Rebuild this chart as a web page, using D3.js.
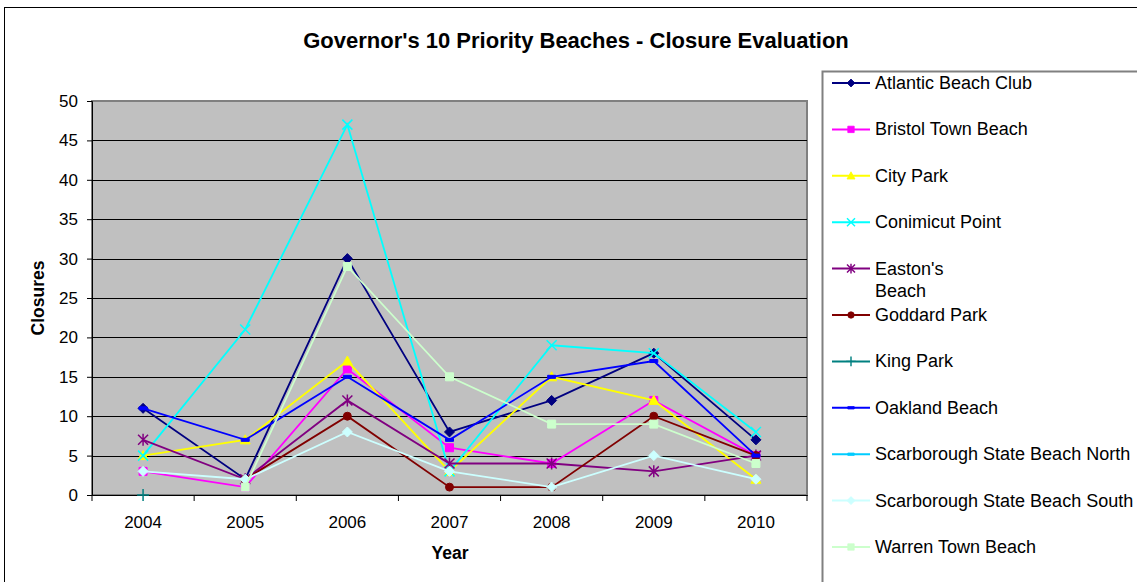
<!DOCTYPE html>
<html>
<head>
<meta charset="utf-8">
<script src="https://cdn.jsdelivr.net/npm/d3@7"></script>
<style>
  body { margin: 0; background: #fff; }
  text { font-family: "Liberation Sans", Arial, sans-serif; fill: #000; }
</style>
</head>
<body>
<svg width="1137" height="582"></svg>
<script>
//	data
var years = ["2004", "2005", "2006", "2007", "2008", "2009", "2010"];
var beaches = ["Atlantic Beach Club", "Bristol Town Beach", "City Park", "Conimicut Point",
	"Easton's\nBeach", "Goddard Park", "King Park", "Oakland Beach",
	"Scarborough State Beach North", "Scarborough State Beach South", "Warren Town Beach"];
var atlantic   = [11, 2, 30, 8, 12, 18, 7];
var bristol    = [3, 1, 16, 6, 4, 12, 5];
var cityPark   = [5, 7, 17, 3, 15, 12, 2];
var conimicut  = [5, 21, 47, 3, 19, 18, 8];
var eastons    = [7, 2, 12, 4, 4, 3, 5];
var goddard    = [null, 2, 10, 1, 1, 10, 5];
var kingPark   = [0, null, null, null, null, null, null];
var oakland    = [11, 7, 15, 7, 15, 17, 5];
var scarbNorth = [null, null, null, null, null, null, null];
var scarbSouth = [3, 2, 8, 3, 1, 5, 2];
var warren     = [null, 1, 29, 15, 9, 9, 4];
var yTicks = [0, 5, 10, 15, 20, 25, 30, 35, 40, 45, 50];

var seriesValues = [atlantic, bristol, cityPark, conimicut, eastons, goddard,
	kingPark, oakland, scarbNorth, scarbSouth, warren];
var colors = ["#000080", "#FF00FF", "#FFFF00", "#00FFFF", "#800080", "#800000",
	"#008080", "#0000FF", "#00CCFF", "#CCFFFF", "#CCFFCC"];
var markers = ["diamond", "square", "triangle", "x", "star", "circle",
	"plus", "dash", "dash", "diamond", "square"];

var svg = d3.select("svg");
var margin = {top: 101, left: 92, right: 330, bottom: 87};
var width = 1137 - margin.left - margin.right,
	height = 582 - margin.top - margin.bottom;

//	outer chart border
svg.append("rect")
	.attr("x", 4.5).attr("y", 7.5)
	.attr("width", 1140).attr("height", 590)
	.attr("fill", "#fff").attr("stroke", "#000").attr("stroke-width", 1);

svg.append("text")
	.attr("x", 576).attr("y", 48)
	.attr("text-anchor", "middle")
	.style("font-size", "22px").style("font-weight", "bold")
	.text("Governor's 10 Priority Beaches - Closure Evaluation");

var g = svg.append("g").attr("transform", "translate(" + margin.left + "," + margin.top + ")");

var x = d3.scaleBand().domain(years).range([0, width]);
var y = d3.scaleLinear().domain([0, 50]).range([height, 0]);

g.append("rect")
	.attr("width", width).attr("height", height)
	.attr("fill", "#C0C0C0").attr("stroke", "#808080").attr("stroke-width", 2);

//	gridlines
g.selectAll(".grid").data(yTicks.filter(function(d) { return d > 0 && d < 50; }))
	.enter().append("line")
	.attr("x1", 0).attr("x2", width)
	.attr("y1", function(d) { return Math.round(y(d)) + 0.5; })
	.attr("y2", function(d) { return Math.round(y(d)) + 0.5; })
	.attr("stroke", "#000").attr("stroke-width", 1);

//	y axis
var axisY = g.append("g")
	.call(d3.axisLeft(y).tickValues(yTicks).tickSize(5).tickPadding(9));
axisY.select(".domain").attr("stroke", "#000");
axisY.selectAll("text").style("font-size", "17px").style("font-family", "Liberation Sans, Arial");

//	x axis: labels centred, ticks at the category boundaries
var axisX = g.append("g")
	.attr("transform", "translate(0," + height + ")")
	.call(d3.axisBottom(x).tickSize(0).tickPadding(21));
axisX.select(".domain").attr("stroke", "#000");
axisX.selectAll("text").style("font-size", "17px").style("font-family", "Liberation Sans, Arial");
axisX.selectAll(".bound").data(years.concat(["end"]))
	.enter().append("line")
	.attr("class", "bound")
	.attr("x1", function(d) { return d == "end" ? width : x(d); })
	.attr("x2", function(d) { return d == "end" ? width : x(d); })
	.attr("y1", 0).attr("y2", 6)
	.attr("stroke", "#000");

svg.append("text")
	.attr("x", 450).attr("y", 559)
	.attr("text-anchor", "middle")
	.style("font-size", "17.5px").style("font-weight", "bold")
	.text("Year");
svg.append("text")
	.attr("transform", "translate(44,298) rotate(-90)")
	.attr("text-anchor", "middle")
	.style("font-size", "17.5px").style("font-weight", "bold")
	.text("Closures");

//	marker shapes
function markerPath(type) {
	switch (type) {
		case "diamond": return "M0,-5L5,0L0,5L-5,0Z";
		case "square": return "M-4,-4H4V4H-4Z";
		case "triangle": return "M0,-5L5,4H-5Z";
		case "x": return "M-5,-5L5,5M-5,5L5,-5";
		case "star": return "M-5,-5L5,5M-5,5L5,-5M0,-6V6";
		case "circle": return d3.symbol(d3.symbolCircle, 50)();
		case "plus": return "M-6,0H6M0,-6V6";
		case "dash": return "M-4,-1.5H4V1.5H-4Z";
	}
}
function isStroked(type) {
	return type == "x" || type == "star" || type == "plus";
}

var line = d3.line()
	.defined(function(d) { return d.v != null; })
	.x(function(d) { return x(d.year) + x.bandwidth() / 2; })
	.y(function(d) { return y(d.v); });

var series = seriesValues.map(function(vals, i) {
	return {name: beaches[i], color: colors[i], marker: markers[i],
		points: years.map(function(yr, j) { return {year: yr, v: vals[j]}; })};
});

var sg = g.selectAll(".series").data(series).enter().append("g").attr("class", "series");
sg.append("path")
	.attr("d", function(d) { return line(d.points); })
	.attr("fill", "none")
	.attr("stroke", function(d) { return d.color; })
	.attr("stroke-width", 1.8);
sg.each(function(s) {
	d3.select(this).selectAll(".mk")
		.data(s.points.filter(function(p) { return p.v != null; }))
		.enter().append("path")
		.attr("class", "mk")
		.attr("transform", function(p) {
			return "translate(" + (x(p.year) + x.bandwidth() / 2) + "," + y(p.v) + ")";
		})
		.attr("d", markerPath(s.marker))
		.attr("fill", isStroked(s.marker) ? "none" : s.color)
		.attr("stroke", s.color)
		.attr("stroke-width", isStroked(s.marker) ? 1.5 : 1);
});

//	legend
var legend = svg.append("g").attr("transform", "translate(822,71)");
legend.append("rect")
	.attr("x", 0.5).attr("y", 0.5)
	.attr("width", 330).attr("height", 530)
	.attr("fill", "#fff").attr("stroke", "#808080").attr("stroke-width", 2);
var li = legend.selectAll(".li").data(series).enter().append("g")
	.attr("transform", function(d, i) { return "translate(0," + (12 + i * 46.4) + ")"; });
li.append("line")
	.attr("x1", 10).attr("x2", 48)
	.attr("stroke", function(d) { return d.color; }).attr("stroke-width", 2);
li.append("path")
	.attr("transform", "translate(29,0) scale(0.8)")
	.attr("d", function(d) { return markerPath(d.marker); })
	.attr("fill", function(d) { return isStroked(d.marker) ? "none" : d.color; })
	.attr("stroke", function(d) { return d.color; })
	.attr("stroke-width", function(d) { return isStroked(d.marker) ? 1.8 : 1; });
li.append("text")
	.attr("x", 53).attr("y", 6)
	.style("font-size", "18px")
	.each(function(d) {
		var parts = d.name.split("\n");
		var t = d3.select(this);
		parts.forEach(function(p, k) {
			t.append("tspan").attr("x", 53).attr("dy", k == 0 ? 0 : 22).text(p);
		});
	});
</script>
</body>
</html>
